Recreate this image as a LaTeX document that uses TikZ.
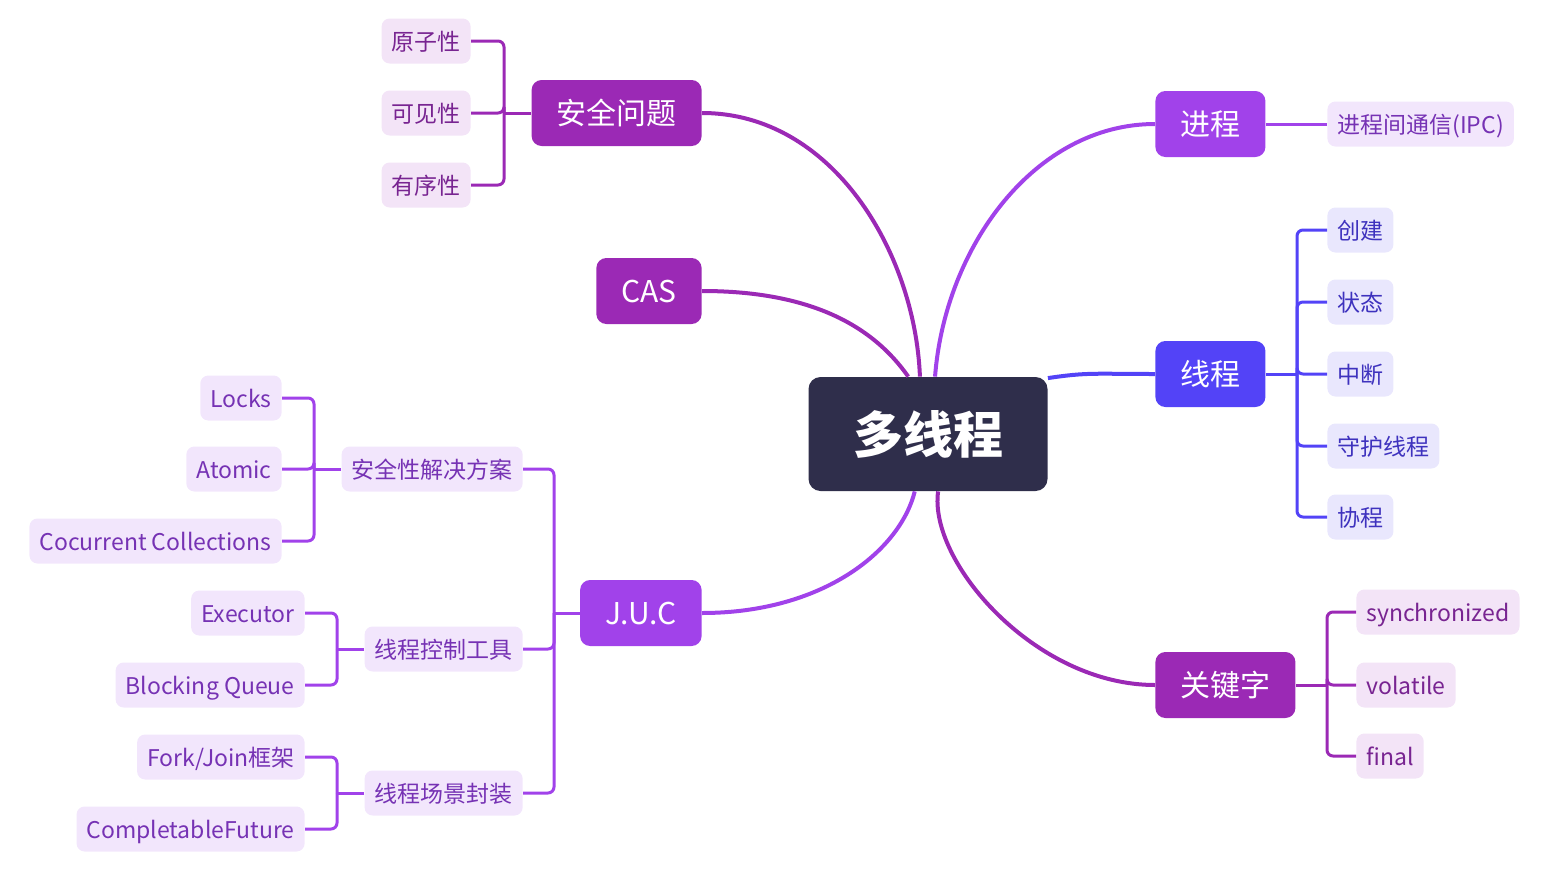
\documentclass[tikz,border=0pt]{standalone}
\usepackage{fontspec}
\setmainfont{Noto Sans CJK SC}
\usepackage{tikz}
\definecolor{mtnavy}{RGB}{47,46,75}
\definecolor{mtmagenta}{RGB}{155,41,181}
\definecolor{mtpurple}{RGB}{161,66,234}
\definecolor{mtblue}{RGB}{83,67,247}
\definecolor{mtmagfill}{RGB}{243,228,247}
\definecolor{mtpurfill}{RGB}{242,230,252}
\definecolor{mtblufill}{RGB}{233,231,253}
\definecolor{mtmagtext}{RGB}{120,36,145}
\definecolor{mtpurtext}{RGB}{118,50,180}
\definecolor{mttblutext}{RGB}{62,50,190}
\tikzset{
  root/.style={fill=mtnavy, text=white, rounded corners=6pt,
    minimum width=119.5pt, minimum height=57pt,
    font=\fontsize{25}{30}\selectfont\bfseries},
  topic/.style={fill=#1, text=white, rounded corners=5pt,
    minimum height=33pt, inner xsep=12.5pt, inner ysep=0pt,
    text height=1.2em, text depth=0.1em,
    font=\fontsize{15}{18}\selectfont},
  leaf/.style={rounded corners=4pt, minimum height=22.5pt,
    inner xsep=5pt, inner ysep=0pt, text height=1.05em, text depth=0.1em,
    font=\fontsize{11.5}{14}\selectfont},
  magleaf/.style={leaf, fill=mtmagfill, text=mtmagtext},
  purleaf/.style={leaf, fill=mtpurfill, text=mtpurtext},
  bluleaf/.style={leaf, fill=mtblufill, text=mttblutext},
  branch/.style={line width=2pt, #1},
  twig/.style={line width=1.5pt, rounded corners=3pt, #1}
}
\begin{document}
\begin{tikzpicture}[x=0.5pt, y=-0.5pt]
\useasboundingbox (0,0) rectangle (1541,873);

% Root
\node[root] (mt) at (928,434) {多线程};

% Main topics
\node[topic=mtmagenta, anchor=east] (safety) at (702,113) {安全问题};
\node[topic=mtmagenta, anchor=east] (cas) at (702,291) {CAS};
\node[topic=mtpurple, anchor=east] (juc) at (702,613) {J.U.C};
\node[topic=mtpurple, anchor=west] (proc) at (1155,124) {进程};
\node[topic=mtblue, anchor=west] (thread) at (1155,374) {线程};
\node[topic=mtmagenta, anchor=west] (kw) at (1155,685) {关键字};

% Curves to the root
\draw[branch=mtmagenta] (safety.east) .. controls +(130,0) and +(-5,-125) .. (mt.98);
\draw[branch=mtmagenta] (cas.east) .. controls +(110,0) and +(-35,-50) .. (mt.109);
\draw[branch=mtpurple] (juc.east) .. controls +(120,0) and +(-15,60) .. (mt.257);
\draw[branch=mtpurple] (proc.west) .. controls +(-120,0) and +(10,-130) .. (mt.83);
\draw[branch=mtblue] (thread.west) .. controls +(-60,0) and +(40,-6) .. (mt.25);
\draw[branch=mtmagenta] (kw.west) .. controls +(-120,0) and +(-10,70) .. (mt.280);

% Safety problems
\coordinate (safetyj) at (504,113);
\foreach \txt/\y [count=\i] in {原子性/41, 可见性/113, 有序性/185} {
    \node[magleaf, anchor=east] (s\i) at (471,\y) {\txt};
    \draw[twig=mtmagenta] (s\i.east) -| (safetyj);
}
\draw[twig=mtmagenta] (safety.west) -- (safetyj);

% Process
\node[purleaf, anchor=west] (ipc) at (1327,124) {进程间通信(IPC)};
\draw[twig=mtpurple] (proc.east) -- (ipc.west);

% Thread
\coordinate (threadj) at (1297,374);
\foreach \txt/\y [count=\i] in {创建/230, 状态/302, 中断/374, 守护线程/446, 协程/517} {
    \node[bluleaf, anchor=west] (t\i) at (1327,\y) {\txt};
    \draw[twig=mtblue] (t\i.west) -| (threadj);
}
\draw[twig=mtblue] (thread.east) -- (threadj);

% Keywords
\coordinate (kwj) at (1327,685);
\foreach \txt/\y [count=\i] in {synchronized/612, volatile/685, final/756} {
    \node[magleaf, anchor=west] (k\i) at (1356,\y) {\txt};
    \draw[twig=mtmagenta] (k\i.west) -| (kwj);
}
\draw[twig=mtmagenta] (kw.east) -- (kwj);

% J.U.C
\coordinate (jucj) at (554,613);
\node[purleaf, anchor=east] (j1) at (523,469) {安全性解决方案};
\node[purleaf, anchor=east] (j2) at (523,649) {线程控制工具};
\node[purleaf, anchor=east] (j3) at (523,793) {线程场景封装};
\foreach \i in {1,2,3} {
    \draw[twig=mtpurple] (j\i.east) -| (jucj);
}
\draw[twig=mtpurple] (juc.west) -- (jucj);

% Safety solutions
\coordinate (j1j) at (314,469);
\foreach \txt/\y [count=\i] in {Locks/398, Atomic/469, Cocurrent Collections/541} {
    \node[purleaf, anchor=east] (a\i) at (282,\y) {\txt};
    \draw[twig=mtpurple] (a\i.east) -| (j1j);
}
\draw[twig=mtpurple] (j1.west) -- (j1j);

% Thread control tools
\coordinate (j2j) at (337,649);
\foreach \txt/\y [count=\i] in {Executor/613, Blocking Queue/685} {
    \node[purleaf, anchor=east] (b\i) at (305,\y) {\txt};
    \draw[twig=mtpurple] (b\i.east) -| (j2j);
}
\draw[twig=mtpurple] (j2.west) -- (j2j);

% Thread scene wrappers
\coordinate (j3j) at (337,793);
\foreach \txt/\y [count=\i] in {{Fork/Join框架}/757, CompletableFuture/829} {
    \node[purleaf, anchor=east] (c\i) at (305,\y) {\txt};
    \draw[twig=mtpurple] (c\i.east) -| (j3j);
}
\draw[twig=mtpurple] (j3.west) -- (j3j);
\end{tikzpicture}
\end{document}
